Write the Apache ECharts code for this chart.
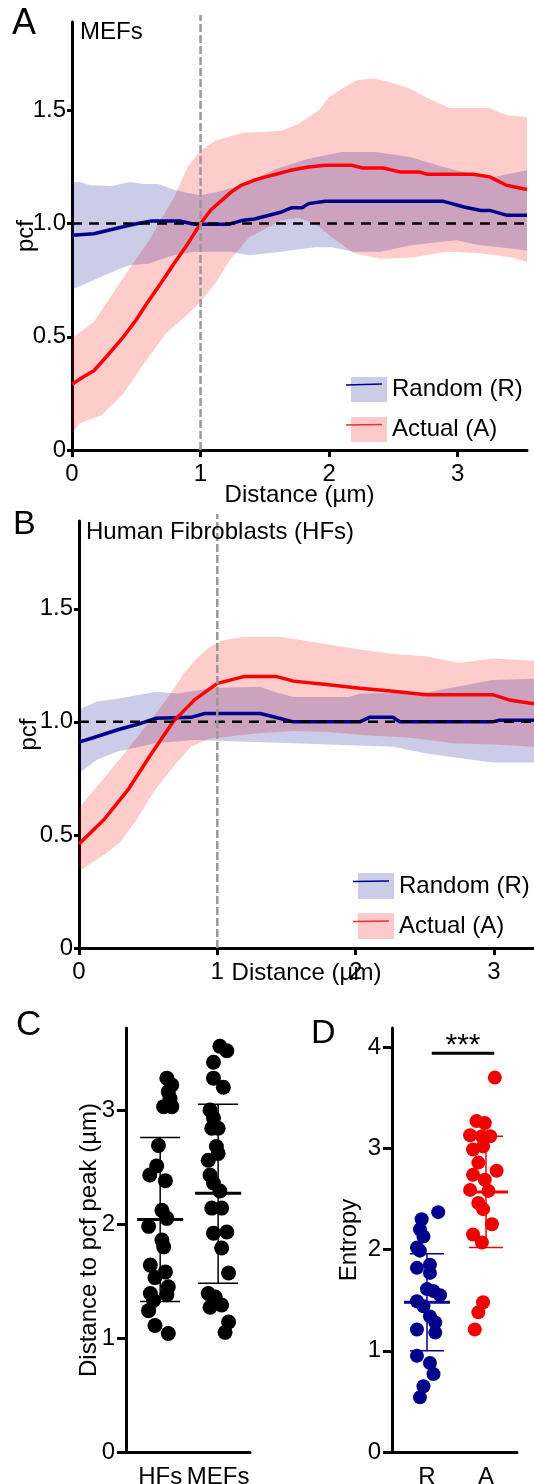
<!DOCTYPE html>
<html><head><meta charset="utf-8">
<script src="https://cdn.jsdelivr.net/npm/echarts@6/dist/echarts.min.js"></script>
<style>html,body{margin:0;padding:0;background:#fff}#c{width:534px;height:1484px}</style>
</head><body><div id="c"></div>
<script>
// ---------- Panel A (MEFs) ----------
const aActualMean = [[0,0.29],[0.08,0.32],[0.17,0.35],[0.28,0.42],[0.40,0.50],[0.50,0.575],[0.59,0.654],[0.69,0.735],[0.79,0.82],[0.90,0.91],[1.0,1.0],[1.08,1.06],[1.16,1.10],[1.24,1.14],[1.32,1.17],[1.41,1.19],[1.50,1.205],[1.60,1.22],[1.70,1.235],[1.84,1.25],[1.97,1.257],[2.18,1.257],[2.26,1.245],[2.42,1.245],[2.55,1.228],[2.70,1.228],[2.76,1.218],[3.12,1.218],[3.25,1.206],[3.38,1.169],[3.54,1.15]];
const aActualUpper = [[0,0.493],[0.17,0.566],[0.235,0.62],[0.385,0.75],[0.60,0.926],[0.795,1.117],[0.90,1.25],[1.0,1.323],[1.12,1.367],[1.32,1.40],[1.48,1.404],[1.63,1.41],[1.76,1.44],[1.92,1.5],[2.0,1.558],[2.10,1.595],[2.21,1.632],[2.34,1.642],[2.47,1.625],[2.63,1.595],[2.78,1.55],[2.94,1.51],[3.25,1.51],[3.38,1.478],[3.54,1.47]];
const aActualLower = [[0,0.074],[0.06,0.118],[0.23,0.154],[0.40,0.25],[0.56,0.382],[0.73,0.515],[0.90,0.60],[1.0,0.655],[1.12,0.74],[1.23,0.84],[1.38,0.94],[1.63,1.015],[1.76,1.026],[1.89,1.0],[2.02,0.94],[2.19,0.87],[2.40,0.845],[2.65,0.85],[2.91,0.875],[3.16,0.87],[3.42,0.85],[3.54,0.83]];
const aRandomMean = [[0,0.948],[0.17,0.955],[0.34,0.978],[0.48,0.997],[0.62,1.011],[0.84,1.011],[0.95,0.997],[1.22,0.997],[1.32,1.013],[1.42,1.02],[1.63,1.051],[1.71,1.07],[1.79,1.07],[1.84,1.088],[1.97,1.098],[2.89,1.098],[3.05,1.073],[3.18,1.058],[3.25,1.058],[3.38,1.037],[3.54,1.037]];
const aRandomUpper = [[0,1.184],[0.06,1.184],[0.14,1.169],[0.31,1.166],[0.45,1.184],[0.56,1.175],[0.67,1.175],[0.79,1.15],[0.90,1.135],[1.0,1.125],[1.14,1.14],[1.32,1.17],[1.58,1.24],[1.84,1.286],[2.10,1.316],[2.36,1.316],[2.63,1.294],[2.89,1.25],[3.15,1.213],[3.28,1.206],[3.54,1.235]];
const aRandomLower = [[0,0.709],[0.23,0.765],[0.37,0.80],[0.45,0.816],[0.59,0.823],[0.79,0.86],[0.95,0.875],[1.23,0.875],[1.38,0.86],[1.63,0.875],[1.89,0.895],[2.02,0.895],[2.19,0.875],[2.40,0.875],[2.65,0.905],[2.99,0.926],[3.16,0.905],[3.42,0.89],[3.54,0.88]];

// ---------- Panel B (Human Fibroblasts) ----------
const bActualMean = [[0,0.46],[0.18,0.567],[0.355,0.70],[0.51,0.847],[0.68,1.0],[0.835,1.097],[1.0,1.17],[1.19,1.2],[1.43,1.2],[1.55,1.18],[1.79,1.165],[2.03,1.149],[2.27,1.135],[2.51,1.12],[2.99,1.12],[3.11,1.097],[3.29,1.08]];
const bActualUpper = [[0,0.62],[0.23,0.787],[0.48,0.978],[0.63,1.097],[0.76,1.215],[0.835,1.27],[0.94,1.33],[1.04,1.36],[1.18,1.375],[1.47,1.375],[1.67,1.355],[2.03,1.32],[2.27,1.30],[2.51,1.29],[2.75,1.26],[2.99,1.28],[3.29,1.27]];
const bActualLower = [[0,0.34],[0.2,0.42],[0.3,0.47],[0.42,0.57],[0.55,0.70],[0.68,0.80],[0.81,0.89],[0.94,0.925],[1.3,0.95],[1.55,0.96],[1.8,0.955],[2.1,0.94],[2.4,0.93],[2.7,0.905],[3.0,0.90],[3.29,0.89]];
const bRandomMean = [[0,0.91],[0.13,0.935],[0.28,0.965],[0.45,0.994],[0.56,1.016],[0.81,1.02],[0.91,1.037],[1.31,1.037],[1.42,1.02],[1.55,1.0],[2.03,1.0],[2.1,1.02],[2.27,1.02],[2.32,1.0],[2.99,1.0],[3.04,1.007],[3.29,1.007]];
const bRandomUpper = [[0,1.053],[0.13,1.09],[0.31,1.105],[0.56,1.133],[0.71,1.125],[0.97,1.15],[1.31,1.155],[1.43,1.13],[1.55,1.11],[1.95,1.11],[2.03,1.125],[2.51,1.13],[2.99,1.185],[3.29,1.19]];
const bRandomLower = [[0,0.773],[0.13,0.832],[0.28,0.869],[0.45,0.891],[0.56,0.906],[0.71,0.913],[0.835,0.92],[1.55,0.905],[2.27,0.89],[2.51,0.86],[2.99,0.82],[3.29,0.82]];

// tick labels
const pcfTicks = [0, 0.5, 1, 1.5];
const distTicks = [0, 1, 2, 3];

// ---------- Panel C ----------
const cCategories = ['HFs', 'MEFs'];
const cHFs = [[1.115,3.28],[1.20,3.22],[1.14,3.16],[1.17,3.10],[1.06,3.03],[1.20,3.03],[0.97,2.69],[0.94,2.51],[0.82,2.43],[1.09,2.38],[1.03,2.12],[1.115,2.05],[0.80,1.98],[1.03,1.86],[1.06,1.80],[0.83,1.64],[1.09,1.58],[0.91,1.53],[1.14,1.45],[0.83,1.39],[1.115,1.38],[0.885,1.33],[0.80,1.24],[0.91,1.11],[1.14,1.04]];
const cMEFs = [[2.03,3.56],[2.15,3.52],[1.92,3.42],[1.92,3.28],[2.09,3.20],[1.86,3.00],[1.92,2.93],[1.89,2.84],[2.0,2.84],[1.97,2.68],[2.0,2.62],[1.83,2.56],[1.86,2.43],[1.92,2.36],[2.03,2.29],[1.89,2.14],[2.06,2.14],[2.15,1.93],[1.92,1.92],[2.06,1.79],[2.18,1.57],[1.83,1.39],[1.95,1.36],[1.86,1.27],[2.06,1.29],[2.18,1.14],[2.12,1.05]];
// [category position, mean, mean-SD, mean+SD]
const cStats = [[1, 2.04, 1.32, 2.76], [2, 2.27, 1.48, 3.05]];
const cTicks = [0, 1, 2, 3];

// ---------- Panel D ----------
const dCategories = ['R', 'A'];
const dRandom = [[1.19,2.37],[0.91,2.30],[0.88,2.20],[0.94,2.13],[0.83,2.02],[0.88,1.99],[0.83,1.82],[1.05,1.85],[1.05,1.77],[1.0,1.61],[1.11,1.59],[0.83,1.49],[1.22,1.55],[0.94,1.44],[1.05,1.34],[1.14,1.28],[0.83,1.21],[1.14,1.18],[0.83,0.95],[1.05,0.88],[1.11,0.77],[0.94,0.65],[0.88,0.54]];
const dActual = [[2.15,3.70],[1.84,3.27],[1.98,3.25],[1.73,3.13],[1.93,3.12],[2.07,3.12],[1.78,2.99],[1.95,3.02],[1.87,2.86],[2.18,2.78],[1.78,2.74],[1.98,2.69],[1.73,2.59],[2.04,2.58],[1.87,2.46],[1.95,2.40],[2.10,2.25],[1.78,2.15],[1.93,2.07],[1.95,1.48],[1.87,1.38],[1.81,1.21]];
const dStatsR = [[1, 1.48, 1.00, 1.96]];
const dStatsA = [[2, 2.57, 2.02, 3.12]];
const dSig = [[1.08, 2.14, 3.94]];
const dTicks = [0, 1, 2, 3, 4];

const FONT = '"Liberation Sans", Arial, Helvetica, sans-serif';
const FS = 24;
const NAVY = '#00008b', RED = '#ff0000';
const BAND_R = 'rgba(0,0,139,0.2)', BAND_A = 'rgba(255,0,0,0.2)';
const BAND_R_SOLID = '#cccce8', BAND_A_SOLID = '#fccaca';

function axisBase(gi, min, max, interval, ticks, fmt, extra) {
  return Object.assign({
    gridIndex: gi, type: 'value', min, max, interval,
    nameMoveOverlap: false,
    axisLine: { onZero: false, lineStyle: { color: '#000', width: 3 } },
    axisTick: { length: 7, lineStyle: { color: '#000', width: 3 }, customValues: ticks },
    axisLabel: { color: '#000', fontSize: FS, fontFamily: FONT, customValues: ticks, formatter: fmt, hideOverlap: false },
    splitLine: { show: false },
    nameTextStyle: { color: '#000', fontSize: FS, fontFamily: FONT }
  }, extra || {});
}
const pcfFmt = v => (v === 0 ? '0' : v.toFixed(1));
const intFmt = v => String(Math.round(v));

function band(name, idx, upper, lower, fill, legendColor) {
  return {
    type: 'custom', name, xAxisIndex: idx, yAxisIndex: idx, z: 1, silent: true,
    itemStyle: { color: legendColor },
    data: [upper[0]],
    renderItem: (p, api) => {
      const pts = upper.map(q => api.coord(q)).concat(lower.slice().reverse().map(q => api.coord(q)));
      return { type: 'polygon', shape: { points: pts }, style: { fill } };
    }
  };
}
function meanLine(idx, data, color) {
  return { type: 'line', xAxisIndex: idx, yAxisIndex: idx, data, showSymbol: false, symbol: 'none',
    lineStyle: { color, width: 3.5 }, z: 3, silent: true };
}
function refLines(idx, xMax, yMax) {
  return {
    type: 'custom', xAxisIndex: idx, yAxisIndex: idx, z: 6, silent: true, data: [[1, 1]],
    renderItem: (p, api) => {
      const h0 = api.coord([0, 1]), h1 = api.coord([xMax, 1]);
      const v0 = api.coord([1, 0]), v1 = api.coord([1, yMax]);
      return { type: 'group', children: [
        { type: 'line', shape: { x1: h0[0], y1: h0[1], x2: h1[0], y2: h1[1] },
          style: { stroke: '#000', lineWidth: 2.5, lineDash: [10, 7] } },
        { type: 'line', shape: { x1: v0[0], y1: v0[1], x2: v1[0], y2: v1[1] - 7 },
          style: { stroke: '#999', lineWidth: 2.5, lineDash: [8, 3] } }
      ] };
    }
  };
}
function errBars(idx, stats, color, meanHalf, capHalf, meanW, barW) {
  return {
    type: 'custom', xAxisIndex: idx, yAxisIndex: idx, z: 5, silent: true, data: stats,
    renderItem: (p, api) => {
      const x = api.value(0), m = api.value(1), lo = api.value(2), hi = api.value(3);
      const pm = api.coord([x, m]), pl = api.coord([x, lo]), ph = api.coord([x, hi]);
      const st = w => ({ stroke: color, lineWidth: w });
      return { type: 'group', children: [
        { type: 'line', shape: { x1: pl[0], y1: pl[1], x2: ph[0], y2: ph[1] }, style: st(barW) },
        { type: 'line', shape: { x1: ph[0] - capHalf, y1: ph[1], x2: ph[0] + capHalf, y2: ph[1] }, style: st(barW) },
        { type: 'line', shape: { x1: pl[0] - capHalf, y1: pl[1], x2: pl[0] + capHalf, y2: pl[1] }, style: st(barW) },
        { type: 'line', shape: { x1: pm[0] - meanHalf, y1: pm[1], x2: pm[0] + meanHalf, y2: pm[1] }, style: st(meanW) }
      ] };
    }
  };
}

const A_XMAX = 3.54, A_YMAX = 1.89, B_XMAX = 3.29, B_YMAX = 1.888;
const ts = s => ({ fontSize: s, fontWeight: 'normal', color: '#000', fontFamily: FONT });
const gridBase = { containLabel: false, outerBoundsMode: 'none' };

const option = {
  animation: false,
  backgroundColor: '#fff',
  textStyle: { fontFamily: FONT },
  title: [
    { text: 'A', left: 12, top: 6, padding: 0, textStyle: ts(36) },
    { text: 'MEFs', left: 80, top: 20, padding: 0, textStyle: ts(FS) },
    { text: 'B', left: 13, top: 508, padding: 0, textStyle: ts(34) },
    { text: 'Human Fibroblasts (HFs)', left: 86, top: 520, padding: 0, textStyle: ts(FS) },
    { text: 'C', left: 16, top: 1008, padding: 0, textStyle: ts(35) },
    { text: 'D', left: 311, top: 1017, padding: 0, textStyle: ts(34) }
  ],
  legend: [
    { data: ['Random (R)', 'Actual (A)'], left: 346, top: 372, orient: 'vertical', icon: 'rect',
      itemWidth: 36, itemHeight: 25, itemGap: 15, selectedMode: false,
      textStyle: { fontSize: FS, color: '#000', fontFamily: FONT } },
    { data: ['Random (R)', 'Actual (A)'], left: 353, top: 868, orient: 'vertical', icon: 'rect',
      itemWidth: 36, itemHeight: 26, itemGap: 14, selectedMode: false,
      textStyle: { fontSize: FS, color: '#000', fontFamily: FONT } }
  ],
  graphic: [
    { type: 'line', z: 100, shape: { x1: 346, y1: 385, x2: 382, y2: 384 }, style: { stroke: NAVY, lineWidth: 1.5 } },
    { type: 'line', z: 100, shape: { x1: 346, y1: 425, x2: 382, y2: 424.5 }, style: { stroke: '#f03030', lineWidth: 1.5 } },
    { type: 'line', z: 100, shape: { x1: 353, y1: 881.5, x2: 389, y2: 881 }, style: { stroke: NAVY, lineWidth: 1.5 } },
    { type: 'line', z: 100, shape: { x1: 353, y1: 921.5, x2: 389, y2: 921 }, style: { stroke: '#f03030', lineWidth: 1.5 } }
  ],
  grid: [
    Object.assign({ left: 72, top: 22, width: 455, height: 428 }, gridBase),
    Object.assign({ left: 79, top: 521, width: 455, height: 427 }, gridBase),
    Object.assign({ left: 126, top: 1028, width: 124, height: 424 }, gridBase),
    Object.assign({ left: 392, top: 1028, width: 125, height: 424 }, gridBase)
  ],
  xAxis: [
    axisBase(0, 0, A_XMAX, 1, distTicks, intFmt, { name: 'Distance (µm)', nameLocation: 'middle', nameGap: 33 }),
    axisBase(1, 0, B_XMAX, 1, distTicks, intFmt, { name: 'Distance (µm)', nameLocation: 'middle', nameGap: 13 }),
    axisBase(2, 0.41, 2.55, null, [1, 2], v => cCategories[Math.round(v) - 1], {}),
    axisBase(3, 0.407, 2.525, null, [1, 2], v => dCategories[Math.round(v) - 1], {})
  ],
  yAxis: [
    axisBase(0, 0, A_YMAX, 0.5, pcfTicks, pcfFmt, { name: 'pcf', nameLocation: 'middle', nameGap: 34 }),
    axisBase(1, 0, B_YMAX, 0.5, pcfTicks, pcfFmt, { name: 'pcf', nameLocation: 'middle', nameGap: 38 }),
    axisBase(2, 0, 3.72, 1, cTicks, intFmt, { name: 'Distance to pcf peak (µm)', nameLocation: 'middle', nameGap: 25 }),
    axisBase(3, 0, 4.19, 1, dTicks, intFmt, { name: 'Entropy', nameLocation: 'middle', nameGap: 31 })
  ],
  series: []
};
// C/D x-axes: no ticks, labels below
[2, 3].forEach(i => { option.xAxis[i].axisTick = { show: false }; option.xAxis[i].axisLabel.margin = 13; });
[0, 1].forEach(i => {
  option.xAxis[i].axisLabel.margin = 12;
  option.yAxis[i].axisLabel.margin = 6;
  option.yAxis[i].axisTick.length = 5;
});
[2, 3].forEach(i => { option.yAxis[i].axisLabel.margin = 11; option.yAxis[i].axisTick.length = 9; });

option.series.push(
  band('Actual (A)', 0, aActualUpper, aActualLower, BAND_A, BAND_A_SOLID),
  band('Random (R)', 0, aRandomUpper, aRandomLower, BAND_R, BAND_R_SOLID),
  meanLine(0, aRandomMean, NAVY),
  meanLine(0, aActualMean, RED),
  refLines(0, A_XMAX, A_YMAX),
  band('Actual (A)', 1, bActualUpper, bActualLower, BAND_A, BAND_A_SOLID),
  band('Random (R)', 1, bRandomUpper, bRandomLower, BAND_R, BAND_R_SOLID),
  meanLine(1, bRandomMean, NAVY),
  meanLine(1, bActualMean, RED),
  refLines(1, B_XMAX, B_YMAX),
  { type: 'scatter', xAxisIndex: 2, yAxisIndex: 2, data: cHFs, symbolSize: 15, itemStyle: { color: '#000', opacity: 1 }, z: 3, silent: true },
  { type: 'scatter', xAxisIndex: 2, yAxisIndex: 2, data: cMEFs, symbolSize: 15, itemStyle: { color: '#000', opacity: 1 }, z: 3, silent: true },
  errBars(2, cStats, '#000', 23, 20, 3, 1.5),
  { type: 'scatter', xAxisIndex: 3, yAxisIndex: 3, data: dRandom, symbolSize: 14, itemStyle: { color: NAVY, opacity: 1 }, z: 3, silent: true },
  { type: 'scatter', xAxisIndex: 3, yAxisIndex: 3, data: dActual, symbolSize: 14, itemStyle: { color: '#f00000', opacity: 1 }, z: 3, silent: true },
  errBars(3, dStatsR, NAVY, 23, 17, 3, 1.5),
  errBars(3, dStatsA, '#f00000', 22, 17, 3, 1.5),
  {
    type: 'custom', xAxisIndex: 3, yAxisIndex: 3, z: 5, silent: true, data: dSig,
    renderItem: (p, api) => {
      const a = api.coord([api.value(0), api.value(2)]), b = api.coord([api.value(1), api.value(2)]);
      return { type: 'group', children: [
        { type: 'line', shape: { x1: a[0], y1: a[1], x2: b[0], y2: b[1] }, style: { stroke: '#000', lineWidth: 3 } },
        { type: 'text', x: (a[0] + b[0]) / 2, y: a[1] - 8,
          style: { text: '***', fill: '#000', fontSize: 30, fontFamily: FONT, align: 'center', verticalAlign: 'middle' } }
      ] };
    }
  }
);

const chart = echarts.init(document.getElementById('c'), null, { renderer: 'canvas' });
chart.setOption(option);
</script>
</body></html>
